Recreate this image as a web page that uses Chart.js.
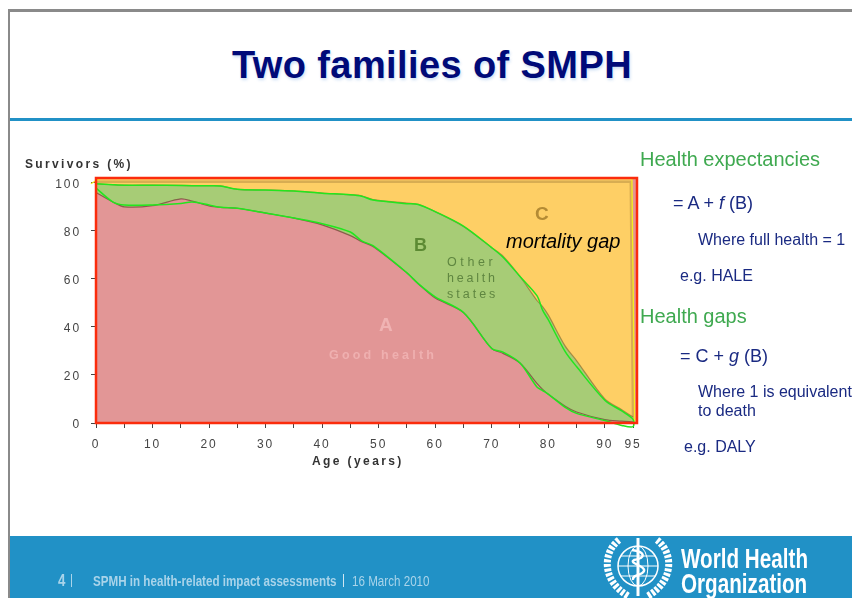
<!DOCTYPE html>
<html>
<head>
<meta charset="utf-8">
<title>Two families of SMPH</title>
<script src="https://cdn.jsdelivr.net/npm/chart.js@4"></script>
<style>
html, body { margin: 0; padding: 0; background: #fff; overflow: hidden; }
#slide { position: relative; width: 852px; height: 598px; overflow: hidden; font-family: "Liberation Sans", Arial, sans-serif; }
#slide div { position: absolute; white-space: nowrap; line-height: 1; }
canvas { position: absolute; left: 0; top: 0; }
.frame-top { left: 8px; top: 9px; width: 844px; height: 3px; background: #8a8a8a; }
.frame-left { left: 8px; top: 9px; width: 2px; height: 589px; background: #8a8a8a; }
.rule { left: 10px; top: 118px; width: 842px; height: 3px; background: #2191c6; }
.band { left: 10px; top: 536px; width: 842px; height: 62px; background: #2191c6; }
.title { left: 232px; top: 46px; font-size: 38px; font-weight: bold; letter-spacing: 0.4px; color: #000a78; text-shadow: 1px 2px 3px rgba(90,150,220,.3); }
.head { color: #3fa950; font-size: 20px; }
.txt { color: #1a2a82; font-size: 16px; }
.eq { color: #1a2a82; font-size: 18px; }
.axis-name { font-size: 12px; font-weight: bold; color: #333; }
.foot { color: #a9d4ea; font-size: 14px; transform: scaleX(.83); transform-origin: left top; }
.who { color: #fff; font-weight: bold; font-size: 27px; transform: scaleX(.765); transform-origin: left top; }
svg { position: absolute; left: 602px; top: 536px; }
</style>
</head>
<body>
<div id="slide">
  <div class="frame-top"></div>
  <div class="frame-left"></div>
  <div class="rule"></div>
  <div class="band"></div>
  <div class="title">Two families of SMPH</div>

  <canvas id="survival" width="852" height="598"></canvas>

  <div class="axis-name" style="left:25px;top:158px;letter-spacing:2.35px">Survivors (%)</div>
  <div class="axis-name" style="left:312px;top:455px;letter-spacing:2.4px">Age (years)</div>
  <div style="left:379px;top:315px;font-size:19px;font-weight:bold;color:#f0b3b3">A</div>
  <div style="left:329px;top:349px;font-size:12.5px;font-weight:bold;letter-spacing:3.2px;color:#efb0b0">Good health</div>
  <div style="left:414px;top:236px;font-size:18px;font-weight:bold;color:#5c8a33">B</div>
  <div style="left:447px;top:256px;font-size:12.5px;letter-spacing:3.6px;color:#5f8640">Other</div>
  <div style="left:447px;top:272px;font-size:12.5px;letter-spacing:2.8px;color:#5f8640">health</div>
  <div style="left:447px;top:288px;font-size:12.5px;letter-spacing:3px;color:#5f8640">states</div>
  <div style="left:535px;top:204px;font-size:19px;font-weight:bold;color:#b48b34">C</div>
  <div style="left:506px;top:231px;font-size:20px;font-style:italic;color:#000">mortality gap</div>

  <div class="head" style="left:640px;top:149px">Health expectancies</div>
  <div class="eq" style="left:673px;top:194px">= A + <i>f</i> (B)</div>
  <div class="txt" style="left:698px;top:232px">Where full health = 1</div>
  <div class="txt" style="left:680px;top:268px">e.g. HALE</div>
  <div class="head" style="left:640px;top:306px">Health gaps</div>
  <div class="eq" style="left:680px;top:347px">= C + <i>g</i> (B)</div>
  <div class="txt" style="left:698px;top:384px">Where 1 is equivalent</div>
  <div class="txt" style="left:698px;top:403px">to death</div>
  <div class="txt" style="left:684px;top:439px">e.g. DALY</div>

  <div class="foot" style="left:58px;top:573px;font-weight:bold;font-size:16px">4</div>
  <div style="left:71px;top:574px;width:1px;height:13px;background:#a9d4ea"></div>
  <div class="foot" style="left:93px;top:574px;font-weight:bold">SPMH in health-related impact assessments</div>
  <div style="left:343px;top:574px;width:1px;height:13px;background:#cfe6f2"></div>
  <div class="foot" style="left:352px;top:574px">16 March 2010</div>

  <!-- WHO emblem, rough -->
  <svg width="76" height="62" viewBox="0 0 76 62" fill="none" stroke="#fff">
    <path d="M17 4 C1 16 -1 44 26 60" stroke-width="7" stroke-dasharray="3 1.6"/>
    <path d="M55 4 C71 16 73 44 46 60" stroke-width="7" stroke-dasharray="3 1.6"/>
    <circle cx="36" cy="30" r="20" stroke-width="1.5"/>
    <ellipse cx="36" cy="30" rx="10" ry="20" stroke-width="1"/>
    <path d="M16 30 H56 M19 20 H53 M19 40 H53" stroke-width="1"/>
    <path d="M36 2 V60" stroke-width="3"/>
    <path d="M30 14 C44 16 44 22 32 24 C26 27 44 30 42 35 C40 40 30 38 31 44" stroke-width="2.4"/>
  </svg>
  <div class="who" style="left:681px;top:546px">World Health</div>
  <div class="who" style="left:681px;top:571px">Organization</div>
</div>

<script>
/* === DATA === */
const ages = [0, 3, 5, 10, 15, 17, 20, 22, 25, 30, 35, 40, 45, 47, 49, 55, 57, 60, 65, 70, 72, 75, 78, 79, 80, 83, 85, 90, 93, 95];
const goodHealth = [96, 92, 90, 90.5, 93.3, 92.4, 90.4, 89.8, 89.4, 87.4, 85.3, 82.5, 78, 75.5, 73.5, 62.5, 58, 52, 46, 31, 29, 25, 16.5, 14, 12, 7, 4.6, 1.4, 0.8, 0.5];
const greenLower = [97.8, 92, 90.8, 90.8, 91.4, 92, 90.8, 89.8, 89.4, 87.4, 85.3, 83, 79.5, 75.8, 73.8, 62.5, 58, 52.5, 46, 31, 29.5, 25, 15, 13.5, 12, 6.5, 4, 1, -1, -1.5];
const otherHealth = [99.6, 99.2, 99, 99, 98.9, 98.8, 98.8, 98.7, 97.3, 97, 96.6, 95.7, 95, 94.6, 93, 91.5, 91, 88, 81.8, 73, 69.5, 61, 51, 48.5, 45, 32, 26, 10, 5.5, 2.5];
const greenUpper = [99.6, 99.2, 99, 99, 98.9, 98.8, 98.8, 98.7, 97.3, 97, 96.6, 95.7, 95, 94.4, 92.8, 91.3, 91, 88, 82, 73, 69, 61, 53, 47, 43, 29.7, 23.5, 9.5, 5, 1.5];
const gapAges = [0, 94.8, 95.2];
const gapTop = [102, 102, 0];
const ceilingAges = [0, 94.6, 95];
const ceilingValues = [100.4, 100.4, 0.5];
const edgeAges = [-0.9, 0.8, 94.8, 95.3];
const edgeValues = [99.6, 102, 102, 0.5];
const backAges = [0, 95.7];
const backValues = [102, 102];

const xTicks = [0, 5, 10, 15, 20, 25, 30, 35, 40, 45, 50, 55, 60, 65, 70, 75, 80, 85, 90, 95];
const xLabels = [0, 10, 20, 30, 40, 50, 60, 70, 80, 90, 95];
const yTicks = [0, 20, 40, 60, 80, 100];

const pairs = (xs, ys) => xs.map((x, i) => ({ x: x, y: ys[i] }));

/* === CHART === */
function initChart() {
    const ctx = document.getElementById('survival');

    // the red frame of the plot and the spaced out tick text
    const framePlugin = {
        id: 'frame',
        beforeDraw(chart) {
            chart.ctx.letterSpacing = '1.9px';
        },
        afterDatasetsDraw(chart) {
            const a = chart.chartArea, c = chart.ctx;
            c.save();
            c.strokeStyle = '#fb2c0c';
            c.lineWidth = 2.5;
            c.strokeRect(a.left, a.top, a.right - a.left, a.bottom - a.top);
            c.restore();
        }
    };

    const outline = { showLine: true, fill: false, pointRadius: 0, clip: false };
    const smooth = { ...outline, tension: 0.3 };

    new Chart(ctx, {
        type: 'scatter',
        data: {
            // first dataset ends up on top
            datasets: [
                { ...smooth, label: 'green outline', borderColor: '#22e61e', borderWidth: 1.5,
                  data: pairs(ages, greenLower).concat(pairs(ages, greenUpper).reverse()) },
                { ...smooth, label: 'A edge', borderColor: 'rgba(110,60,50,.7)', borderWidth: 1.2, data: pairs(ages, goodHealth) },
                { ...smooth, label: 'B edge', borderColor: 'rgba(130,95,40,.6)', borderWidth: 1.2, data: pairs(ages, otherHealth) },
                { ...smooth, label: 'A', fill: 'origin', backgroundColor: '#e29696', borderWidth: 0, data: pairs(ages, goodHealth) },
                { ...smooth, label: 'B', fill: 'origin', backgroundColor: '#a7cc76', borderWidth: 0, data: pairs(ages, otherHealth) },
                { ...outline, label: 'C edge', borderColor: '#f7ee1e', borderWidth: 1.3, data: pairs(edgeAges, edgeValues) },
                { ...outline, label: 'ceiling', borderColor: 'rgba(170,130,60,.45)', borderWidth: 2.5, data: pairs(ceilingAges, ceilingValues) },
                { ...outline, label: 'C', fill: 'origin', backgroundColor: '#fecf65', borderWidth: 0, data: pairs(gapAges, gapTop) },
                { ...outline, label: 'back', fill: 'origin', backgroundColor: '#e29696', borderWidth: 0, data: pairs(backAges, backValues) }
            ]
        },
        options: {
            responsive: false,
            animation: false,
            layout: { padding: { top: 178, right: 215 } },
            plugins: { legend: { display: false }, tooltip: { enabled: false } },
            scales: {
                x: {
                    type: 'linear',
                    min: 0,
                    max: 95.7,
                    grid: { drawOnChartArea: false, tickLength: 5, tickColor: '#444' },
                    border: { display: false },
                    afterBuildTicks: s => { s.ticks = xTicks.map(v => ({ value: v })); },
                    afterFit: s => { s.height = 175; },
                    ticks: {
                        autoSkip: false,
                        maxRotation: 0,
                        padding: 9,
                        color: '#444',
                        font: { family: 'Liberation Sans', size: 12 },
                        callback: v => xLabels.includes(v) ? v : ''
                    }
                },
                y: {
                    min: 0,
                    max: 102,
                    grid: { drawOnChartArea: false, tickLength: 5, tickColor: '#444' },
                    border: { display: false },
                    afterBuildTicks: s => { s.ticks = yTicks.map(v => ({ value: v })); },
                    afterFit: s => { s.width = 96; },
                    ticks: {
                        padding: 10,
                        labelOffset: 1.5,
                        color: '#444',
                        font: { family: 'Liberation Sans', size: 12 }
                    }
                }
            }
        },
        plugins: [framePlugin]
    });
}

initChart();
</script>
</body>
</html>
